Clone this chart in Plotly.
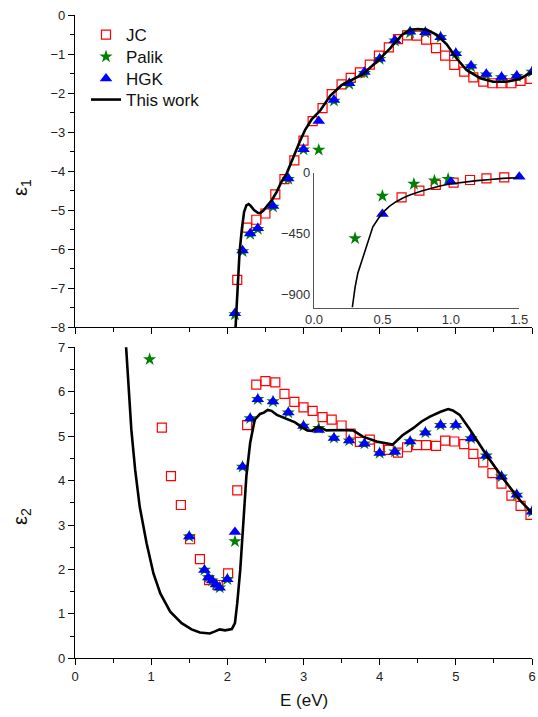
import plotly.graph_objects as go

# ---------------- data ----------------
JC_E = [0.64, 0.77, 0.89, 1.02, 1.14, 1.26, 1.39, 1.51, 1.64, 1.76, 1.88, 2.01,
        2.13, 2.26, 2.38, 2.50, 2.63, 2.75, 2.88, 3.00, 3.12, 3.25, 3.37, 3.50,
        3.62, 3.74, 3.87, 3.99, 4.12, 4.24, 4.36, 4.49, 4.61, 4.74, 4.86, 4.98,
        5.11, 5.23, 5.36, 5.48, 5.60, 5.73, 5.85, 5.98]
JC_EPS1 = [-183, -133, -91, -74, -54, -42, -34, None, None, None, None, None,
           -6.79, -5.45, -5.25, -5.09, -4.60, -4.21, -3.73, -3.22, -2.72, -2.39,
           -2.03, -1.78, -1.61, -1.47, -1.27, -1.04, -0.83, -0.62, -0.52, -0.53,
           -0.63, -0.85, -1.04, -1.28, -1.45, -1.60, -1.71, -1.75, -1.75, -1.75,
           -1.69, -1.64]
JC_EPS2 = [None, None, None, None, 5.19, 4.10, 3.45, 2.68, 2.23, 1.76, 1.65, 1.91,
           3.78, 5.25, 6.16, 6.24, 6.21, 5.95, 5.77, 5.65, 5.57, 5.43, 5.37, 5.24,
           5.06, 4.87, 4.92, 4.75, 4.69, 4.63, 4.75, 4.80, 4.80, 4.78, 4.90, 4.88,
           4.82, 4.60, 4.41, 4.17, 3.93, 3.66, 3.43, 3.23]

PALIK_E = [0.30, 0.50, 0.73, 0.88, 0.98, 1.5, 1.7, 1.75, 1.8, 1.85, 1.9, 2.0,
           2.1, 2.2, 2.3, 2.4, 2.6, 2.8, 3.0, 3.2, 3.4, 3.6, 3.8, 4.0, 4.2, 4.4,
           4.6, 4.8, 5.0, 5.2, 5.4, 5.6, 5.8, 6.0]
PALIK_EPS1 = [-487, -173, -84, -59, -47, None, None, None, None, None, None, None,
              -7.68, -6.06, -5.62, -5.49, -4.92, -4.21, -3.45, -3.46, -2.20, -1.77,
              -1.49, -1.13, -0.66, -0.45, -0.45, -0.57, -0.99, -1.32, -1.53, -1.60,
              -1.57, -1.46]
PALIK_EPS2 = [None, None, None, None, 6.73, 2.74, 1.99, 1.82, 1.75, 1.66, 1.59, 1.78,
              2.63, 4.31, 5.40, 5.83, 5.78, 5.53, 5.23, 5.18, 4.96, 4.90, 4.83, 4.62,
              4.65, 4.88, 5.08, 5.25, 5.25, 4.95, 4.56, 4.09, 3.68, 3.30]

HGK_E = [0.5, 1.0, 1.5, 1.7, 1.75, 1.8, 1.85, 1.9, 2.0, 2.1, 2.2, 2.3, 2.4, 2.6,
         2.8, 3.0, 3.2, 3.4, 3.6, 3.8, 4.0, 4.2, 4.4, 4.6, 4.8, 5.0, 5.2, 5.4,
         5.6, 5.8, 6.0]
HGK_EPS1 = [-306, -67, -30, None, None, None, None, None, None, -7.65, -6.04, -5.60,
            -5.47, -4.90, -4.19, -3.44, -2.72, -2.18, -1.75, -1.46, -1.12, -0.65,
            -0.43, -0.44, -0.57, -0.98, -1.30, -1.51, -1.59, -1.56, -1.46]
HGK_EPS2 = [None, None, 2.74, 1.99, 1.82, 1.75, 1.66, 1.59, 1.78, 2.84, 4.31, 5.40,
            5.83, 5.78, 5.53, 5.23, 5.14, 4.96, 4.90, 4.83, 4.62, 4.65, 4.88, 5.08,
            5.25, 5.25, 4.95, 4.56, 4.09, 3.68, 3.30]

# "This work" curves
TW1_E = [2.10, 2.12, 2.14, 2.16, 2.19, 2.22, 2.25, 2.28, 2.31, 2.35, 2.40, 2.43,
         2.47, 2.52, 2.58, 2.65, 2.71, 2.78, 2.87, 2.95, 3.02, 3.11, 3.22, 3.35,
         3.50, 3.65, 3.78, 3.96, 4.14, 4.29, 4.40, 4.50, 4.62, 4.75, 4.88, 5.01,
         5.14, 5.32, 5.49, 5.67, 5.84, 6.02]
TW1_EPS1 = [-8.3, -7.5, -6.8, -6.1, -5.5, -5.05, -4.88, -4.85, -4.90, -5.00, -5.07,
            -5.08, -5.02, -4.90, -4.76, -4.53, -4.28, -4.06, -3.62, -3.25, -2.95,
            -2.67, -2.45, -2.07, -1.80, -1.64, -1.52, -1.20, -0.85, -0.51, -0.38,
            -0.36, -0.38, -0.51, -0.75, -1.11, -1.41, -1.62, -1.71, -1.71, -1.64,
            -1.44]

TWIN_E = [0.28, 0.30, 0.32, 0.35, 0.37, 0.40, 0.43, 0.47, 0.51, 0.55, 0.60, 0.65,
          0.70, 0.78, 0.85, 0.92, 0.99, 1.09, 1.19, 1.29, 1.38, 1.50]
TWIN_EPS1 = [-1000, -850, -746, -650, -575, -480, -401, -340, -289, -250, -215,
             -188, -165, -138, -116, -98, -84, -70, -59, -50, -42, -37]

TW2_E = [0.66, 0.70, 0.74, 0.79, 0.85, 0.94, 1.03, 1.12, 1.25, 1.40, 1.53, 1.64,
         1.72, 1.77, 1.83, 1.90, 1.97, 2.06, 2.10, 2.13, 2.17, 2.21, 2.25, 2.30,
         2.36, 2.43, 2.48, 2.53, 2.58, 2.65, 2.78, 2.89, 2.97, 3.05, 3.11, 3.18,
         3.24, 3.30, 3.48, 3.65, 3.78, 3.96, 4.17, 4.30, 4.44, 4.55, 4.66, 4.80,
         4.90, 4.96, 5.05, 5.18, 5.40, 5.62, 5.84, 6.02]
TW2_EPS2 = [7.3, 6.27, 5.14, 4.24, 3.41, 2.59, 1.91, 1.46, 1.05, 0.79, 0.65, 0.58,
            0.56, 0.56, 0.60, 0.65, 0.63, 0.66, 0.79, 1.24, 2.0, 3.0, 4.1, 4.85,
            5.37, 5.50, 5.53, 5.59, 5.57, 5.48, 5.38, 5.31, 5.21, 5.13, 5.12, 5.20,
            5.18, 5.13, 5.14, 5.13, 4.99, 4.88, 4.81, 5.02, 5.18, 5.33, 5.44, 5.55,
            5.61, 5.58, 5.48, 5.16, 4.58, 4.05, 3.56, 3.24]

X_TICKS = [0, 1, 2, 3, 4, 5, 6]
INSET_X_TICKS = [0.0, 0.5, 1.0, 1.5]
INSET_X_LABELS = ["0.0", "0.5", "1.0", "1.5"]
INSET_Y_TICKS = [0, -450, -900]

# ---------------- layout geometry ----------------
W, H = 538, 717
def px_x(p):
    return p / W
def px_y(p):
    return 1 - p / H

FONT = "Liberation Sans, Arial, sans-serif"
RED, GREEN, BLUE = "#FF0000", "#008000", "#0000FF"

jc_m = dict(symbol="square-open", size=9, color=RED, line=dict(width=1.2, color=RED))
pa_m = dict(symbol="star", size=10, color=GREEN, line=dict(width=0))
hg_m = dict(symbol="triangle-up", size=11, color=BLUE, line=dict(width=0))

fig = go.Figure()

def sel(E, V, lo, hi):
    xs, ys = [], []
    for e, v in zip(E, V):
        if v is not None and lo <= e <= hi:
            xs.append(e); ys.append(v)
    return xs, ys

# ----- top panel (eps1) -----
fig.add_trace(go.Scatter(x=JC_E, y=JC_EPS1, mode="markers", marker=jc_m, name="JC",
                         xaxis="x", yaxis="y", legend="legend"))
fig.add_trace(go.Scatter(x=PALIK_E, y=PALIK_EPS1, mode="markers", marker=pa_m, name="Palik",
                         xaxis="x", yaxis="y", legend="legend2"))
fig.add_trace(go.Scatter(x=HGK_E, y=HGK_EPS1, mode="markers", marker=hg_m, name="HGK",
                         xaxis="x", yaxis="y", legend="legend3"))
fig.add_trace(go.Scatter(x=TW1_E, y=TW1_EPS1, mode="lines", line=dict(color="black", width=2.6),
                         name="This work", xaxis="x", yaxis="y", legend="legend4"))

# ----- inset -----
for E, V, m in [(JC_E, JC_EPS1, jc_m), (PALIK_E, PALIK_EPS1, pa_m), (HGK_E, HGK_EPS1, hg_m)]:
    xs, ys = sel(E, V, 0, 1.5)
    fig.add_trace(go.Scatter(x=xs, y=ys, mode="markers", marker=m, showlegend=False,
                             xaxis="x5", yaxis="y5", cliponaxis=False))
fig.add_trace(go.Scatter(x=TWIN_E, y=TWIN_EPS1, mode="lines", line=dict(color="black", width=1.6),
                         showlegend=False, xaxis="x5", yaxis="y5"))

# ----- bottom panel (eps2) -----
fig.add_trace(go.Scatter(x=JC_E, y=JC_EPS2, mode="markers", marker=jc_m, showlegend=False,
                         xaxis="x2", yaxis="y2"))
fig.add_trace(go.Scatter(x=PALIK_E, y=PALIK_EPS2, mode="markers", marker=pa_m, showlegend=False,
                         xaxis="x2", yaxis="y2"))
fig.add_trace(go.Scatter(x=HGK_E, y=HGK_EPS2, mode="markers", marker=hg_m, showlegend=False,
                         xaxis="x2", yaxis="y2"))
fig.add_trace(go.Scatter(x=TW2_E, y=TW2_EPS2, mode="lines", line=dict(color="black", width=2.6),
                         showlegend=False, xaxis="x2", yaxis="y2"))

XD = [px_x(75), px_x(532)]
TOPD = [px_y(327), px_y(15)]
BOTD = [px_y(658.3), px_y(347.3)]

tickfont = dict(family=FONT, size=13, color="#222")
base = dict(showline=True, linecolor="black", linewidth=1.3, zeroline=False, showgrid=False,
            ticks="outside", ticklen=6, tickwidth=1.2, tickcolor="black", tickfont=tickfont,
            automargin=False)
minor_out = dict(ticks="outside", ticklen=3.5, tickwidth=1.2, tickcolor="black", dtick=0.5, showgrid=False)
mirror = dict(showline=True, linecolor="black", linewidth=1.3, zeroline=False, showgrid=False,
              ticks="inside", ticklen=5, tickwidth=1.2, tickcolor="black", showticklabels=False,
              automargin=False)

def leg(top_px):
    return dict(x=px_x(86), y=px_y(top_px), xanchor="left", yanchor="top",
                bgcolor="rgba(0,0,0,0)", font=dict(family=FONT, size=17, color="#111"),
                itemwidth=30)

fig.update_layout(
    width=W, height=H, margin=dict(l=0, r=0, t=0, b=0, autoexpand=False),
    paper_bgcolor="white", plot_bgcolor="rgba(0,0,0,0)",
    showlegend=True,
    legend=leg(17), legend2=leg(39), legend3=leg(61), legend4=leg(82),
    xaxis=dict(base, domain=XD, range=[0, 6], anchor="y", tickvals=X_TICKS, showticklabels=False,
               minor=minor_out),
    yaxis=dict(base, domain=TOPD, range=[-8, 0], anchor="x", dtick=1, minor=minor_out),
    xaxis3=dict(mirror, overlaying="x", side="top", anchor="y", range=[0, 6], dtick=0.5),
    yaxis3=dict(mirror, overlaying="y", side="right", anchor="x", range=[-8, 0], dtick=0.5),
    xaxis2=dict(base, domain=XD, range=[0, 6], anchor="y2", tickvals=X_TICKS, minor=minor_out),
    yaxis2=dict(base, domain=BOTD, range=[0, 7], anchor="x2", dtick=1, minor=minor_out),
    xaxis4=dict(mirror, overlaying="x2", side="top", anchor="y2", range=[0, 6], dtick=0.5),
    yaxis4=dict(mirror, overlaying="y2", side="right", anchor="x2", range=[0, 7], dtick=0.5),
    xaxis5=dict(domain=[px_x(314), px_x(519.3)], range=[0, 1.5], anchor="y5",
                showline=True, linecolor="#555", linewidth=1.2, showgrid=False, zeroline=False,
                ticks="", tickvals=INSET_X_TICKS, ticktext=INSET_X_LABELS, automargin=False,
                tickfont=dict(family=FONT, size=13, color="#333")),
    yaxis5=dict(domain=[px_y(307.5), px_y(172.7)], range=[-1000, 0], anchor="x5",
                showline=True, linecolor="#555", linewidth=1.2, showgrid=False, zeroline=False,
                ticks="", tickvals=INSET_Y_TICKS, automargin=False,
                tickfont=dict(family=FONT, size=13, color="#333")),
)

fig.add_annotation(text="E (eV)", x=px_x(303.5), y=px_y(700), xref="paper", yref="paper",
                   showarrow=False, xanchor="center", yanchor="middle",
                   font=dict(family=FONT, size=17, color="#111"))
fig.add_annotation(text="ε<sub>1</sub>", x=px_x(21), y=px_y(188), xref="paper", yref="paper",
                   showarrow=False, xanchor="center", yanchor="middle", textangle=-90,
                   font=dict(family=FONT, size=20, color="#111"))
fig.add_annotation(text="ε<sub>2</sub>", x=px_x(21), y=px_y(517), xref="paper", yref="paper",
                   showarrow=False, xanchor="center", yanchor="middle", textangle=-90,
                   font=dict(family=FONT, size=20, color="#111"))

fig.write_html("out.html")
